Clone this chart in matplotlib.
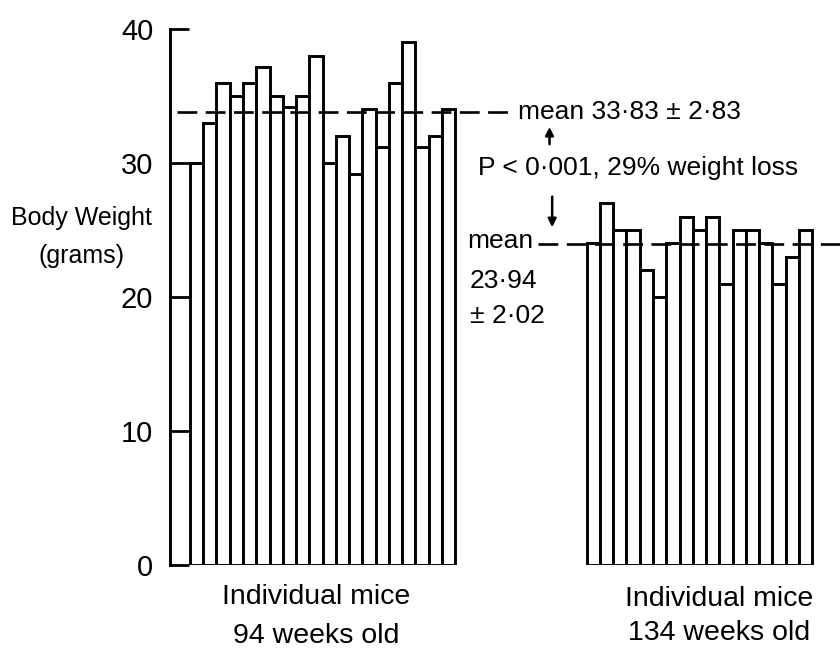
import numpy as np
import matplotlib
matplotlib.use("Agg")
import matplotlib.pyplot as plt

# body weight (grams) of individual mice
weights_94wk = [30, 33, 36, 35, 36, 37.2, 35, 34.2, 35, 38,
                30, 32, 29.2, 34, 31.2, 36, 39, 31.2, 32, 34]
weights_134wk = [24, 27, 25, 25, 22, 20, 24, 26, 25, 26,
                 21, 25, 25, 24, 21, 23, 25]
mean_94wk = 33.83
mean_134wk = 23.94
yticks = [0, 10, 20, 30, 40]
group_labels = ["Individual mice\n94 weeks old", "Individual mice\n134 weeks old"]

plt.rcParams['font.family'] = ['Liberation Sans', 'DejaVu Sans']

W, H = 840, 654
fig = plt.figure(figsize=(W / 100, H / 100), dpi=100)
# axes: left spine at x=170px, y=0 at 565px, y=40 at 29px
ax = fig.add_axes([170 / W, (H - 565) / H, 670 / W, (565 - 29) / H])
ax.set_xlim(0, 670 / 13.27)
ax.set_ylim(0, 40)

x_left = 2 + np.arange(len(weights_94wk))
x_right = 31.9 + np.arange(len(weights_134wk))
bar_kw = dict(width=1.0, color="white", edgecolor="black", linewidth=2.1)
ax.bar(x_left, weights_94wk, **bar_kw)
ax.bar(x_right, weights_134wk, **bar_kw)

# mean lines
ax.plot([0.5, 26.0], [mean_94wk, mean_94wk], color="black", lw=1.9,
        dashes=(7.5, 3.2), clip_on=False)
ax.plot([27.7, 50.5], [mean_134wk, mean_134wk], color="black", lw=1.9,
        dashes=(7.5, 3.2), clip_on=False)

# spines and ticks
for s in ["top", "right", "bottom"]:
    ax.spines[s].set_visible(False)
ax.spines["left"].set_linewidth(2.1)
ax.spines["left"].set_bounds(0, 40)
ax.set_xticks([])
ax.set_yticks(yticks)
ax.tick_params(axis="y", direction="in", length=14, width=2.0, pad=12, labelsize=21)

txt = dict(color="black", clip_on=False)
fs = 19
ax.text(26.2, mean_94wk, "mean 33·83 ± 2·83", fontsize=fs, va="center", ha="left", **txt)
ax.text(23.2, 29.6, "P < 0·001, 29% weight loss", fontsize=fs, va="center", ha="left", **txt)
ax.text(22.4, 24.15, "mean", fontsize=fs, va="center", ha="left", **txt)
ax.text(22.6, 21.2, "23·94", fontsize=fs, va="center", ha="left", **txt)
ax.text(22.6, 18.6, "± 2·02", fontsize=fs, va="center", ha="left", **txt)

ax.annotate("", xy=(28.6, 32.9), xytext=(28.6, 31.2),
            arrowprops=dict(arrowstyle="-|>", color="black", lw=1.8,
                            mutation_scale=12), annotation_clip=False)
ax.annotate("", xy=(28.8, 25.0), xytext=(28.8, 27.7),
            arrowprops=dict(arrowstyle="-|>", color="black", lw=1.8,
                            mutation_scale=12), annotation_clip=False)

# group labels under the bars, one line at a time
for xc, ys, lab in [(11.0, (-2.4, -5.3), group_labels[0]),
                    (41.4, (-2.55, -5.1), group_labels[1])]:
    for yy, line in zip(ys, lab.split("\n")):
        ax.text(xc, yy, line, fontsize=20.5, va="center", ha="center", **txt)

fig.text(81 / W, 1 - 218 / H, "Body Weight", fontsize=18, ha="center", va="center")
fig.text(81 / W, 1 - 256 / H, "(grams)", fontsize=18, ha="center", va="center")

fig.savefig("out.png", dpi=100)
